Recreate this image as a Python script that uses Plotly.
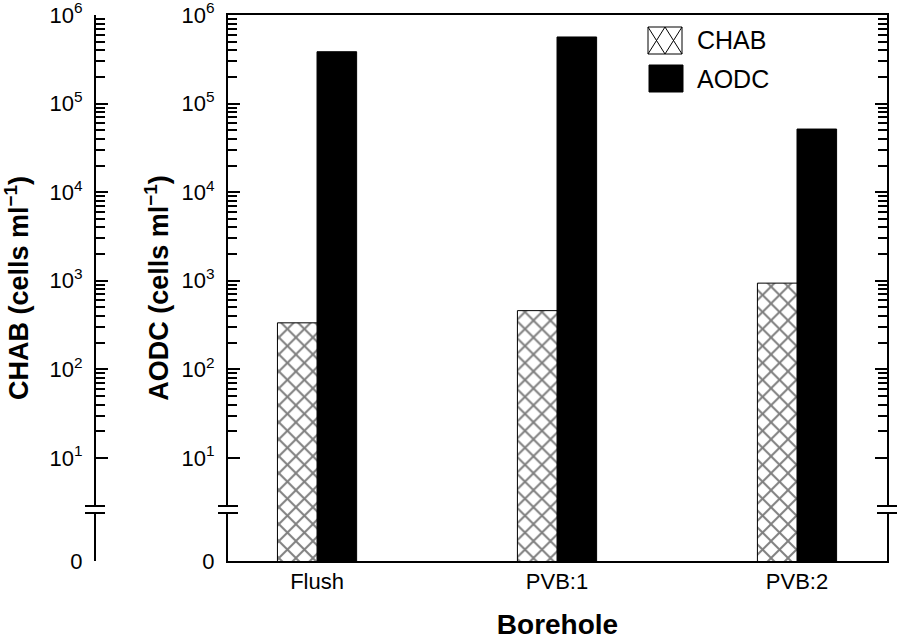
import plotly.graph_objects as go

# ---------------- data ----------------
boreholes = ["Flush", "PVB:1", "PVB:2"]
chab_values = [335, 460, 940]          # CHAB, cells per ml
aodc_values = [385000, 565000, 51600]  # AODC, cells per ml

zero_tick = 10 ** -0.163               # position used for the "0" label below the axis break
y_tickvals = [zero_tick, 1e1, 1e2, 1e3, 1e4, 1e5, 1e6]
y_ticktext = ["0", "10<sup>1</sup>", "10<sup>2</sup>", "10<sup>3</sup>",
              "10<sup>4</sup>", "10<sup>5</sup>", "10<sup>6</sup>"]
y_minor_vals = [k * 10 ** d for d in range(1, 6) for k in range(2, 10)]

# ---------------- layout geometry (pixels) ----------------
W, H = 906, 640
PLOT_LEFT, PLOT_RIGHT, PLOT_TOP, PLOT_BOTTOM = 228, 887, 15, 561
OUTER_AXIS = 95
L = 40
T = PLOT_TOP
B = H - PLOT_BOTTOM
R = W - PLOT_RIGHT
PW, PH = W - L - R, H - T - B
FONT = "Liberation Sans, Arial, Helvetica, sans-serif"


def xp(px):
    return (px - L) / PW


def yp(py):
    return (PLOT_BOTTOM - py) / PH


fig = go.Figure()
fig.add_trace(go.Bar(
    x=boreholes, y=chab_values, name="CHAB", yaxis="y2",
    width=0.165, offset=-0.165,
    marker=dict(color="white", line=dict(color="black", width=1),
                pattern=dict(shape="x", fgcolor="black", bgcolor="white",
                             size=12, solidity=0.3)),
    showlegend=False,
))
fig.add_trace(go.Bar(
    x=boreholes, y=aodc_values, name="AODC",
    width=0.165, offset=0,
    marker=dict(color="black", line=dict(color="black", width=1)),
    showlegend=False,
))

yrange = [-0.1635, 6]
common_y = dict(
    type="log", range=yrange, tickmode="array", tickvals=y_tickvals, ticktext=y_ticktext,
    ticks="inside", ticklen=12, tickwidth=2, tickcolor="black",
    showline=True, linewidth=2, linecolor="black", showgrid=False, zeroline=False,
    tickfont=dict(family=FONT, size=22, color="black"),
    minor=dict(tickvals=y_minor_vals, ticks="inside", ticklen=9, tickwidth=2,
               tickcolor="black", showgrid=False),
    ticklabelstandoff=7, ticklabeloverflow="allow", automargin=False,
)

fig.update_layout(
    width=W, height=H,
    margin=dict(l=L, r=R, t=T, b=B),
    paper_bgcolor="white", plot_bgcolor="white",
    font=dict(family=FONT, color="black"),
    xaxis=dict(
        domain=[xp(PLOT_LEFT), 1], range=[-0.371, 2.375],
        showline=True, linewidth=2, linecolor="black", mirror=True,
        ticks="", showgrid=False, zeroline=False,
        tickfont=dict(family=FONT, size=22, color="black"),
        title=dict(text="Borehole", standoff=25,
                   font=dict(family=FONT, size=28, color="black", weight="bold")),
        automargin=False,
    ),
    yaxis=dict(
        **common_y, mirror="ticks", side="left",
        title=dict(text="AODC (cells ml<sup>−1</sup>)", standoff=5,
                   font=dict(family=FONT, size=27, color="black", weight="bold")),
    ),
    yaxis2=dict(
        **common_y, overlaying="y", anchor="free", position=xp(OUTER_AXIS), side="left",
        title=dict(text="CHAB (cells ml<sup>−1</sup>)", standoff=20,
                   font=dict(family=FONT, size=27, color="black", weight="bold")),
    ),
    showlegend=False,
)

# ---------------- axis breaks ----------------
shapes = []
for ax in (OUTER_AXIS, PLOT_LEFT, PLOT_RIGHT):
    shapes.append(dict(type="rect", xref="paper", yref="paper",
                       x0=xp(ax - 3), x1=xp(ax + 3), y0=yp(512), y1=yp(507),
                       fillcolor="white", line=dict(width=0), layer="above"))
    for yy in (506, 513):
        shapes.append(dict(type="line", xref="paper", yref="paper",
                           x0=xp(ax - 10), x1=xp(ax + 10), y0=yp(yy), y1=yp(yy),
                           line=dict(color="black", width=2), layer="above"))

# ---------------- legend (drawn) ----------------
lx0, lx1 = 648, 682
ly0, ly1 = 27, 54
mid = (lx0 + lx1) / 2
shapes.append(dict(type="rect", xref="paper", yref="paper",
                   x0=xp(lx0), x1=xp(lx1), y0=yp(ly1), y1=yp(ly0),
                   fillcolor="white", line=dict(color="black", width=1), layer="above"))
hatch = (f"M{xp(lx0)},{yp(ly0)} L{xp(mid)},{yp(ly1)} M{xp(mid)},{yp(ly0)} L{xp(lx0)},{yp(ly1)} "
         f"M{xp(mid)},{yp(ly0)} L{xp(lx1)},{yp(ly1)} M{xp(lx1)},{yp(ly0)} L{xp(mid)},{yp(ly1)}")
shapes.append(dict(type="path", xref="paper", yref="paper", path=hatch,
                   line=dict(color="black", width=1), layer="above"))
shapes.append(dict(type="rect", xref="paper", yref="paper",
                   x0=xp(649), x1=xp(683), y0=yp(92), y1=yp(65),
                   fillcolor="black", line=dict(color="black", width=1), layer="above"))
fig.update_layout(shapes=shapes)

legend_names = ["CHAB", "AODC"]
for name, yy in zip(legend_names, (40.5, 78.5)):
    fig.add_annotation(text=name, xref="paper", yref="paper", x=xp(695), y=yp(yy),
                       xanchor="left", yanchor="middle", showarrow=False,
                       font=dict(family=FONT, size=25, color="black"))

# remove the browser's default 8 px page margin so the figure fills the window exactly
fig.write_html("out.html", config={"displayModeBar": False},
               post_script="document.body.style.margin='0';")
